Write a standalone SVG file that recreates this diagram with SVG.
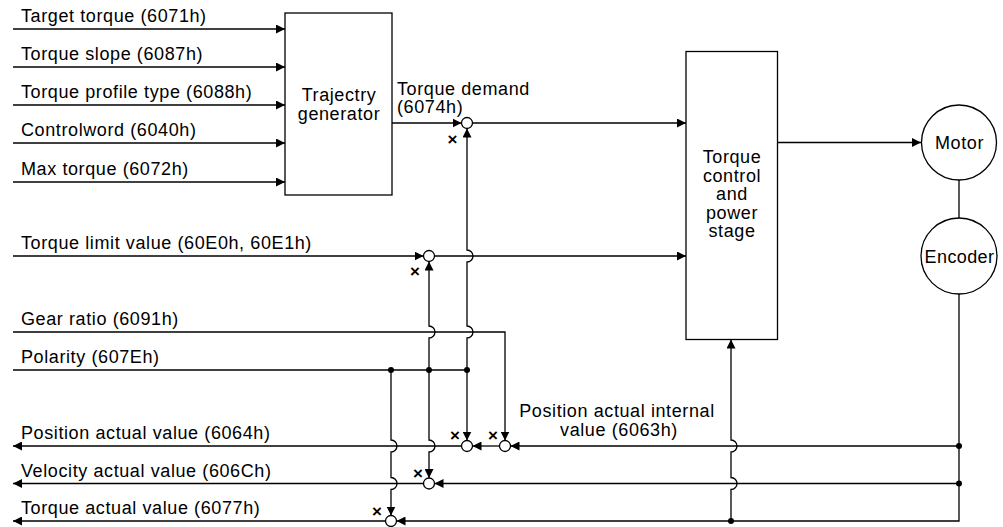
<svg xmlns="http://www.w3.org/2000/svg" width="1003" height="527" viewBox="0 0 1003 527">
<style>
text{font-family:"Liberation Sans",Arial,sans-serif;font-size:18px;letter-spacing:0.6px;fill:#000}
.c{text-anchor:middle}
.box{fill:#fff;stroke:#000;stroke-width:1.3}
.ln{fill:none;stroke:#000;stroke-width:1.3}
.sum{fill:#fff;stroke:#000;stroke-width:1.3}
.dot{fill:#000}
.x{font-size:17px;letter-spacing:0;text-anchor:middle;font-weight:bold}
</style>
<defs>
<marker id="arr" markerUnits="userSpaceOnUse" markerWidth="9" markerHeight="9" refX="8" refY="4" orient="auto" viewBox="0 0 8 8">
<path d="M0,0 L8,4 L0,8 z" fill="#000"/>
</marker>
</defs>
<rect width="1003" height="527" fill="#fff"/>
<g id="connectors" class="ln">
<path d="M13,29 H285" marker-end="url(#arr)"/>
<path d="M13,67 H285" marker-end="url(#arr)"/>
<path d="M13,105 H285" marker-end="url(#arr)"/>
<path d="M13,143 H285" marker-end="url(#arr)"/>
<path d="M13,182 H285" marker-end="url(#arr)"/>
<path d="M392,123 H461.5" marker-end="url(#arr)"/>
<path d="M472.5,123 H686" marker-end="url(#arr)"/>
<path d="M13,256 H423.5" marker-end="url(#arr)"/>
<path d="M434.5,256 H686" marker-end="url(#arr)"/>
<path d="M467,370 V338 a6,6 0 0 0 0,-12 V262 a6,6 0 0 0 0,-12 V128.5" marker-end="url(#arr)"/>
<path d="M429,370 V338 a6,6 0 0 0 0,-12 V261.5" marker-end="url(#arr)"/>
<path d="M13,332 H505 V440.5" marker-end="url(#arr)"/>
<path d="M13,370 H467"/>
<path d="M467,370 V440.5" marker-end="url(#arr)"/>
<path d="M429,370 V440 a6,6 0 0 1 0,12 V478" marker-end="url(#arr)"/>
<path d="M391,370 V440 a6,6 0 0 1 0,12 V477.5 a6,6 0 0 1 0,12 V515.5" marker-end="url(#arr)"/>
<path d="M959,446 H510.5" marker-end="url(#arr)"/>
<path d="M499.5,446 H472.5" marker-end="url(#arr)"/>
<path d="M461.5,446 H13" marker-end="url(#arr)"/>
<path d="M959,483.5 H434.5" marker-end="url(#arr)"/>
<path d="M423.5,483.5 H13" marker-end="url(#arr)"/>
<path d="M959,294 V521 H396.5" marker-end="url(#arr)"/>
<path d="M385.5,521 H13" marker-end="url(#arr)"/>
<path d="M731,521 V489.5 a6,6 0 0 0 0,-12 V452 a6,6 0 0 0 0,-12 V339.5" marker-end="url(#arr)"/>
<path d="M778,142.5 H921" marker-end="url(#arr)"/>
<path d="M959,180 V218"/>
</g>
<g id="junctions">
<circle class="dot" cx="391" cy="370" r="3"/>
<circle class="dot" cx="429" cy="370" r="3"/>
<circle class="dot" cx="467" cy="370" r="3"/>
<circle class="dot" cx="959" cy="446" r="3"/>
<circle class="dot" cx="959" cy="483.5" r="3"/>
<circle class="dot" cx="731" cy="521" r="3"/>
</g>
<g id="sum-demand"><circle class="sum" cx="467" cy="123" r="5.5"/><text class="x" x="452.5" y="144.5">×</text></g>
<g id="sum-limit"><circle class="sum" cx="429" cy="256" r="5.5"/><text class="x" x="415" y="276.5">×</text></g>
<g id="sum-pos"><circle class="sum" cx="467" cy="446" r="5.5"/><text class="x" x="455" y="440.5">×</text></g>
<g id="sum-posint"><circle class="sum" cx="505" cy="446" r="5.5"/><text class="x" x="493" y="440.5">×</text></g>
<g id="sum-vel"><circle class="sum" cx="429" cy="483.5" r="5.5"/><text class="x" x="418" y="478.5">×</text></g>
<g id="sum-torque"><circle class="sum" cx="391" cy="521" r="5.5"/><text class="x" x="377" y="516.5">×</text></g>
<g id="trajectory">
<rect class="box" x="285" y="13" width="107" height="182"/>
<text class="c" x="339" y="101">Trajectry</text>
<text class="c" x="339" y="119.5">generator</text>
</g>
<g id="torque-control">
<rect class="box" x="686" y="51.5" width="91.5" height="288"/>
<text class="c" x="732" y="163">Torque</text>
<text class="c" x="732" y="181.5">control</text>
<text class="c" x="732" y="200">and</text>
<text class="c" x="732" y="218.5">power</text>
<text class="c" x="732" y="237">stage</text>
</g>
<g id="motor">
<circle class="box" cx="959" cy="142.5" r="37.5"/>
<text class="c" x="959.5" y="149">Motor</text>
</g>
<g id="encoder">
<circle class="box" cx="959" cy="256" r="38"/>
<text class="c" x="959.5" y="262.5" style="letter-spacing:0.4px">Encoder</text>
</g>
<g id="labels">
<text x="21" y="22">Target torque (6071h)</text>
<text x="21" y="60">Torque slope (6087h)</text>
<text x="21" y="98">Torque profile type (6088h)</text>
<text x="21" y="136">Controlword (6040h)</text>
<text x="21" y="175">Max torque (6072h)</text>
<text x="397" y="94.5">Torque demand</text>
<text x="397" y="113">(6074h)</text>
<text x="21" y="249">Torque limit value (60E0h, 60E1h)</text>
<text x="21" y="325">Gear ratio (6091h)</text>
<text x="21" y="363">Polarity (607Eh)</text>
<text class="c" x="617" y="417">Position actual internal</text>
<text class="c" x="619" y="435.5">value (6063h)</text>
<text x="21" y="439">Position actual value (6064h)</text>
<text x="21" y="476.5">Velocity actual value (606Ch)</text>
<text x="21" y="514">Torque actual value (6077h)</text>
</g>
</svg>
